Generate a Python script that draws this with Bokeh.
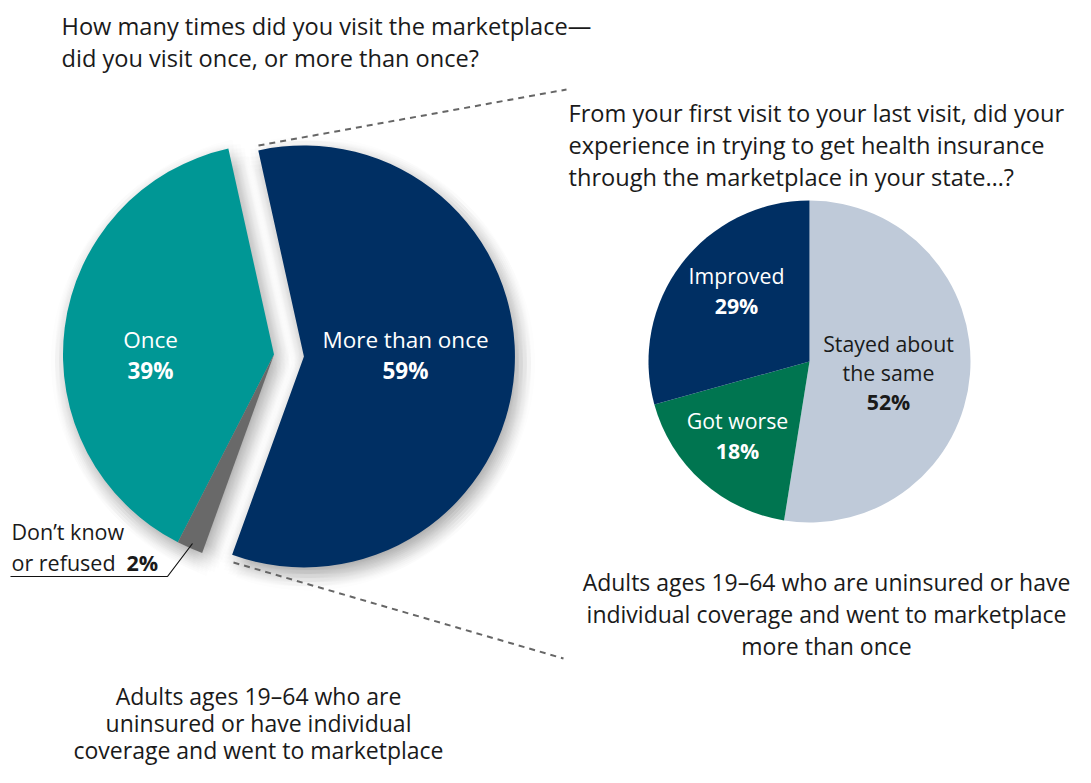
import math
from bokeh.plotting import figure
from bokeh.models import Range1d, ColumnDataSource
from bokeh.core.properties import value
from bokeh.embed import file_html
from bokeh.resources import INLINE

# ---------------- data ----------------
q1_labels = ["Once", "Don\u2019t know or refused", "More than once"]
q1_values = [39, 2, 59]
q1_pct = ["39%", "2%", "59%"]
q1_colors = ["#009795", "#696969", "#002f63"]
q1_explode = [0, 0, 30]

q2_labels = ["Stayed about the same", "Got worse", "Improved"]
q2_values = [52, 18, 29]
q2_pct = ["52%", "18%", "29%"]
q2_colors = ["#bfcad9", "#007550", "#002f63"]

title_left = ["How many times did you visit the marketplace\u2014",
              "did you visit once, or more than once?"]
title_right = ["From your first visit to your last visit, did your",
               "experience in trying to get health insurance",
               "through the marketplace in your state\u2026?"]
note_left = ["Adults ages 19\u201364 who are",
             "uninsured or have individual",
             "coverage and went to marketplace"]
note_right = ["Adults ages 19\u201364 who are uninsured or have",
              "individual coverage and went to marketplace",
              "more than once"]

# ---------------- canvas (data units = pixels) ----------------
W, H = 1075, 767


def Y(v):
    return H - v


p = figure(width=W, height=H, output_backend="svg", toolbar_location=None,
           x_range=Range1d(0, W), y_range=Range1d(0, H), min_border=0)
p.axis.visible = False
p.grid.visible = False
p.outline_line_color = None
p.background_fill_color = "white"

FONT = value("Open Sans")
TXT = "#1a1a1a"

# ---------------- big pie ----------------
cx1, cy1, r1 = 273.5, 354.0, 211.0
start1 = 102.5
tot1 = sum(q1_values)
angles = []
a = start1
for v in q1_values:
    a0 = a
    a1 = a + v / tot1 * 360.0
    angles.append((a0, a1))
    a = a1

centers1 = []
for (a0, a1), ex in zip(angles, q1_explode):
    mid = math.radians((a0 + a1) / 2)
    centers1.append((cx1 + ex * math.cos(mid), Y(cy1) + ex * math.sin(mid)))

# soft drop shadow: blurred copies of each slice
offs = []
for dx in range(-16, 17, 4):
    for dy in range(-16, 17, 4):
        if dx * dx + dy * dy <= 256:
            offs.append((dx, dy))
sh = dict(x=[], y=[], s=[], e=[])
for (a0, a1), (x, y) in zip(angles, centers1):
    for dx, dy in offs:
        sh["x"].append(x + 4 + dx)
        sh["y"].append(y - 7 + dy)
        sh["s"].append(math.radians(a0))
        sh["e"].append(math.radians(a1))
p.wedge(x="x", y="y", radius=r1, start_angle="s", end_angle="e",
        source=ColumnDataSource(sh), fill_color="#3a2c2c", fill_alpha=0.012,
        line_color=None)

src1 = ColumnDataSource(dict(
    x=[c[0] for c in centers1], y=[c[1] for c in centers1],
    s=[math.radians(a0) for a0, _ in angles],
    e=[math.radians(a1) for _, a1 in angles],
    color=q1_colors))
p.wedge(x="x", y="y", radius=r1, start_angle="s", end_angle="e",
        fill_color="color", line_color=None, source=src1)

# big pie labels
LBL = "22.5px"
p.text(x=[150], y=[Y(339)], text=[q1_labels[0]], text_color="white",
       text_font=FONT, text_font_size=LBL, text_align="center",
       text_baseline="middle")
p.text(x=[150], y=[Y(370)], text=[q1_pct[0]], text_color="white",
       text_font=FONT, text_font_size=LBL, text_font_style="bold",
       text_align="center", text_baseline="middle")
p.text(x=[405], y=[Y(339)], text=[q1_labels[2]], text_color="white",
       text_font=FONT, text_font_size=LBL, text_align="center",
       text_baseline="middle")
p.text(x=[405], y=[Y(370)], text=[q1_pct[2]], text_color="white",
       text_font=FONT, text_font_size=LBL, text_font_style="bold",
       text_align="center", text_baseline="middle")

dk_words = q1_labels[1].split(" or ")
p.text(x=[11, 11], y=[Y(531), Y(562)], text=[dk_words[0], "or " + dk_words[1]],
       text_color=TXT, text_font=FONT, text_font_size="21.5px",
       text_align="left", text_baseline="middle")
p.text(x=[126], y=[Y(562)], text=[q1_pct[1]], text_color=TXT, text_font=FONT,
       text_font_size="21.5px", text_font_style="bold", text_align="left",
       text_baseline="middle")
p.line(x=[10, 167, 192], y=[Y(576), Y(576), Y(543)], line_color="#111111",
       line_width=1.2)

# ---------------- connector dashed lines ----------------
p.line(x=[258, 566], y=[Y(145), Y(89)], line_color="#666666", line_width=2,
       line_dash="6 5")
p.line(x=[233, 563], y=[Y(562), Y(658)], line_color="#666666", line_width=2,
       line_dash="6 5")

# ---------------- small pie ----------------
cx2, cy2, r2 = 809.0, 361.0, 161.0
tot2 = sum(q2_values)
s2, e2 = [], []
cum = 0.0
for v in q2_values:
    before = cum
    cum += v / tot2 * 360.0
    s2.append(math.radians(90 - cum))
    e2.append(math.radians(90 - before))
src2 = ColumnDataSource(dict(s=s2, e=e2, color=q2_colors))
p.wedge(x=cx2, y=Y(cy2), radius=r2, start_angle="s", end_angle="e",
        fill_color="color", line_color=None, source=src2)

SMALL = "21.3px"
p.text(x=[888, 888], y=[Y(343), Y(372)], text=["Stayed about", "the same"],
       text_color=TXT, text_font=FONT, text_font_size=SMALL,
       text_align="center", text_baseline="middle")
p.text(x=[888], y=[Y(401)], text=[q2_pct[0]], text_color=TXT, text_font=FONT,
       text_font_size=SMALL, text_font_style="bold", text_align="center",
       text_baseline="middle")
p.text(x=[737], y=[Y(420)], text=[q2_labels[1]], text_color="white",
       text_font=FONT, text_font_size=SMALL, text_align="center",
       text_baseline="middle")
p.text(x=[737], y=[Y(450)], text=[q2_pct[1]], text_color="white",
       text_font=FONT, text_font_size=SMALL, text_font_style="bold",
       text_align="center", text_baseline="middle")
p.text(x=[736], y=[Y(275)], text=[q2_labels[2]], text_color="white",
       text_font=FONT, text_font_size=SMALL, text_align="center",
       text_baseline="middle")
p.text(x=[736], y=[Y(305)], text=[q2_pct[2]], text_color="white",
       text_font=FONT, text_font_size=SMALL, text_font_style="bold",
       text_align="center", text_baseline="middle")

# ---------------- titles and notes ----------------
BIG = "23.6px"
p.text(x=[61, 61], y=[Y(25), Y(57)], text=title_left, text_color=TXT,
       text_font=FONT, text_font_size=BIG, text_align="left",
       text_baseline="middle")
p.text(x=[568] * 3, y=[Y(112), Y(144), Y(176)], text=title_right,
       text_color=TXT, text_font=FONT, text_font_size=BIG, text_align="left",
       text_baseline="middle")
p.text(x=[826] * 3, y=[Y(581), Y(613), Y(645)], text=note_right,
       text_color=TXT, text_font=FONT, text_font_size="23px",
       text_align="center", text_baseline="middle")
p.text(x=[258] * 3, y=[Y(695), Y(722), Y(749)], text=note_left,
       text_color=TXT, text_font=FONT, text_font_size="23px",
       text_align="center", text_baseline="middle")

open("out.html", "w").write(file_html(p, INLINE))
